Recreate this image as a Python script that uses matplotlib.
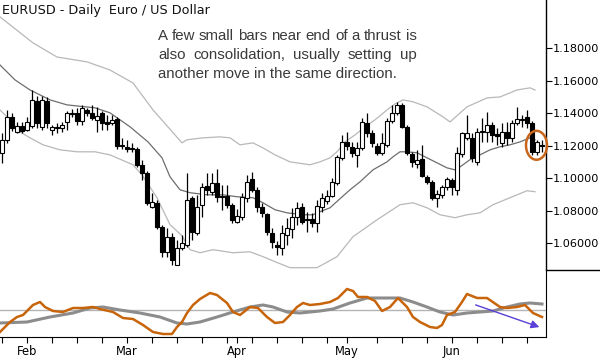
import matplotlib
matplotlib.use("Agg")
import matplotlib.pyplot as plt
from matplotlib.patches import Ellipse
from matplotlib.lines import Line2D

# daily EURUSD candles, one per trading day (index 0 .. 108)
opens = [1.1156, 1.1236, 1.1377, 1.1285, 1.1322, 1.1297, 1.1322, 1.1476, 1.1316, 1.1476,
         1.1297, 1.1310, 1.1310, 1.1346, 1.1396, 1.1402, 1.1353, 1.1420, 1.1402, 1.1359,
         1.1402, 1.1346, 1.1340, 1.1365, 1.1205, 1.1193, 1.1186, 1.1180, 1.1082, 1.1033,
         1.0823, 1.0848, 1.0700, 1.0546, 1.0639, 1.0466, 1.0571, 1.0590, 1.0879, 1.0663,
         1.0836, 1.0953, 1.0916, 1.0971, 1.0891, 1.0891, 1.0836, 1.0731, 1.0762, 1.0879,
         1.0996, 1.0928, 1.0823, 1.0780, 1.0663, 1.0590, 1.0571, 1.0651, 1.0688, 1.0762,
         1.0823, 1.0750, 1.0750, 1.0725, 1.0823, 1.0860, 1.0891, 1.0971, 1.1125, 1.1223,
         1.1193, 1.1143, 1.1186, 1.1340, 1.1279, 1.1199, 1.1156, 1.1205, 1.1353, 1.1402,
         1.1451, 1.1316, 1.1150, 1.1088, 1.1119, 1.1008, 1.0977, 1.0879, 1.0897, 1.0946,
         1.0990, 1.0928, 1.1150, 1.1248, 1.1248, 1.1100, 1.1285, 1.1285, 1.1328, 1.1273,
         1.1217, 1.1285, 1.1248, 1.1340, 1.1359, 1.1377, 1.1340, 1.1162, 1.1205]
highs = [1.1279, 1.1420, 1.1402, 1.1346, 1.1346, 1.1377, 1.1543, 1.1506, 1.1506, 1.1500,
         1.1328, 1.1340, 1.1346, 1.1414, 1.1426, 1.1433, 1.1451, 1.1433, 1.1451, 1.1439,
         1.1414, 1.1390, 1.1390, 1.1377, 1.1248, 1.1236, 1.1217, 1.1193, 1.1113, 1.1045,
         1.0910, 1.0866, 1.0713, 1.0694, 1.0663, 1.0620, 1.0651, 1.1033, 1.0891, 1.0897,
         1.0971, 1.1033, 1.1033, 1.1057, 1.0959, 1.0959, 1.0848, 1.0811, 1.0910, 1.1020,
         1.1039, 1.0946, 1.0848, 1.0786, 1.0694, 1.0614, 1.0713, 1.0756, 1.0817, 1.0854,
         1.0848, 1.0793, 1.0786, 1.0866, 1.0910, 1.0928, 1.1002, 1.1143, 1.1266, 1.1285,
         1.1223, 1.1223, 1.1371, 1.1402, 1.1297, 1.1217, 1.1279, 1.1371, 1.1451, 1.1470,
         1.1463, 1.1328, 1.1162, 1.1174, 1.1205, 1.1020, 1.0990, 1.0928, 1.0959, 1.1008,
         1.1002, 1.1193, 1.1285, 1.1390, 1.1279, 1.1310, 1.1371, 1.1408, 1.1346, 1.1310,
         1.1340, 1.1346, 1.1359, 1.1439, 1.1390, 1.1420, 1.1353, 1.1236, 1.1236]
lows = [1.1094, 1.1217, 1.1291, 1.1279, 1.1279, 1.1291, 1.1310, 1.1310, 1.1297, 1.1310,
        1.1266, 1.1279, 1.1285, 1.1297, 1.1377, 1.1328, 1.1328, 1.1383, 1.1359, 1.1285,
        1.1297, 1.1297, 1.1328, 1.1180, 1.1180, 1.1162, 1.1162, 1.1069, 1.0990, 1.0836,
        1.0817, 1.0688, 1.0516, 1.0516, 1.0466, 1.0466, 1.0559, 1.0577, 1.0620, 1.0651,
        1.0762, 1.0897, 1.0897, 1.0854, 1.0805, 1.0817, 1.0725, 1.0725, 1.0743, 1.0854,
        1.0916, 1.0793, 1.0762, 1.0651, 1.0571, 1.0528, 1.0528, 1.0590, 1.0633, 1.0713,
        1.0719, 1.0670, 1.0700, 1.0670, 1.0793, 1.0842, 1.0885, 1.0959, 1.1113, 1.1174,
        1.1131, 1.1069, 1.1174, 1.1254, 1.1193, 1.1143, 1.1143, 1.1193, 1.1340, 1.1390,
        1.1310, 1.1143, 1.1069, 1.1063, 1.1008, 1.0965, 1.0866, 1.0823, 1.0879, 1.0928,
        1.0897, 1.0897, 1.1131, 1.1236, 1.1100, 1.1082, 1.1223, 1.1223, 1.1223, 1.1205,
        1.1193, 1.1205, 1.1223, 1.1328, 1.1316, 1.1310, 1.1143, 1.1143, 1.1162]
closes = [1.1236, 1.1377, 1.1310, 1.1322, 1.1291, 1.1346, 1.1482, 1.1340, 1.1482, 1.1340,
          1.1316, 1.1316, 1.1328, 1.1402, 1.1402, 1.1353, 1.1433, 1.1402, 1.1371, 1.1383,
          1.1340, 1.1334, 1.1359, 1.1199, 1.1199, 1.1180, 1.1180, 1.1082, 1.1033, 1.0848,
          1.0854, 1.0700, 1.0546, 1.0639, 1.0497, 1.0571, 1.0602, 1.0866, 1.0670, 1.0823,
          1.0946, 1.0928, 1.0971, 1.0885, 1.0885, 1.0836, 1.0743, 1.0768, 1.0885, 1.0977,
          1.0928, 1.0823, 1.0786, 1.0670, 1.0608, 1.0577, 1.0663, 1.0694, 1.0762, 1.0817,
          1.0731, 1.0743, 1.0725, 1.0830, 1.0879, 1.0891, 1.0977, 1.1131, 1.1223, 1.1199,
          1.1156, 1.1186, 1.1346, 1.1279, 1.1217, 1.1156, 1.1217, 1.1353, 1.1402, 1.1451,
          1.1316, 1.1156, 1.1100, 1.1113, 1.1014, 1.0977, 1.0879, 1.0903, 1.0946, 1.0996,
          1.0946, 1.1156, 1.1279, 1.1279, 1.1125, 1.1285, 1.1291, 1.1328, 1.1266, 1.1260,
          1.1285, 1.1248, 1.1340, 1.1365, 1.1365, 1.1340, 1.1162, 1.1223, 1.1199]

# moving average and envelope, read as vertices (bar index, price)
mid_x = [-0.4, 2.6, 5.6, 9.6, 13, 18.6, 21.6, 25.6, 29.2, 32, 33.6, 35.6, 37.6, 41, 44.2,
         47, 50.2, 52.2, 54.6, 57, 60.2, 62.2, 63.6, 65.6, 67.6, 69.6, 71.6, 74.2, 77, 78.2,
         79.6, 81, 83, 85, 87, 89, 90.6, 91.6, 93.6, 95.6, 97.6, 99.6, 101.6, 103.6, 105.6, 106.6]
mid_y = [1.1697, 1.1605, 1.1543, 1.1482, 1.1451, 1.1433, 1.1402, 1.1316, 1.1223, 1.1125,
         1.1008, 1.0928, 1.0910, 1.0897, 1.0897, 1.0885, 1.0879, 1.0848, 1.0805, 1.0786,
         1.0774, 1.0774, 1.0793, 1.0817, 1.0873, 1.0928, 1.0977, 1.1051, 1.1100, 1.1131,
         1.1162, 1.1162, 1.1156, 1.1125, 1.1094, 1.1063, 1.1051, 1.1069, 1.1113, 1.1143,
         1.1174, 1.1193, 1.1205, 1.1223, 1.1248, 1.1236]
upper_x = [-0.4, 6.2, 11, 17, 21.6, 26.2, 30.2, 36, 37, 40.2, 43.6, 45.6, 47.6, 50.2, 52.2,
           54.6, 57.6, 61.6, 63.6, 65.6, 67, 68.6, 70.6, 72.6, 74.6, 77, 78.6, 80.2, 82.2,
           85, 88.2, 89.6, 93, 97, 99.6, 103, 105.6, 106.6]
upper_y = [1.1993, 1.1833, 1.1746, 1.1716, 1.1666, 1.1586, 1.1420, 1.1217, 1.1236, 1.1248,
           1.1254, 1.1248, 1.1205, 1.1217, 1.1186, 1.1143, 1.1100, 1.1082, 1.1100, 1.1125,
           1.1162, 1.1223, 1.1266, 1.1316, 1.1359, 1.1420, 1.1457, 1.1482, 1.1470, 1.1439,
           1.1377, 1.1346, 1.1439, 1.1494, 1.1500, 1.1543, 1.1556, 1.1543]
lower_x = [-0.4, 1, 3.6, 5.6, 8.2, 11.6, 15, 18.6, 21.6, 26.2, 28, 31, 33.6, 36, 37.6, 39.6,
           42.2, 46.2, 49.6, 52.2, 54.6, 57.6, 63, 67, 70.2, 75, 79.6, 82.2, 85, 87.6, 90.6,
           93, 95.6, 98.2, 101.6, 105, 106.6]
lower_y = [1.1420, 1.1377, 1.1285, 1.1248, 1.1205, 1.1174, 1.1162, 1.1162, 1.1143, 1.1082,
           1.1020, 1.0879, 1.0713, 1.0645, 1.0559, 1.0540, 1.0559, 1.0540, 1.0546, 1.0516,
           1.0485, 1.0448, 1.0448, 1.0516, 1.0639, 1.0743, 1.0836, 1.0848, 1.0817, 1.0774,
           1.0756, 1.0774, 1.0786, 1.0836, 1.0879, 1.0922, 1.0916]

# oscillator panel
osc_x = [-0.4, 1.6, 3, 4.2, 6.2, 7.6, 8.6, 10.2, 12.2, 14.2, 16.2, 18.2, 19.6, 22.2, 24.2,
         26.2, 28.2, 30.2, 32.2, 34, 35, 36, 37, 38.2, 39.6, 41.6, 43, 45, 46.2, 47.6, 49.6,
         51.2, 53, 54.6, 56.2, 57.6, 59, 60.2, 61.6, 63.6, 65.6, 67.2, 69, 70.2, 71.2, 73,
         74.6, 76, 77.6, 79.2, 81, 82.2, 83.6, 85.6, 87, 88, 89, 90.6, 92, 93, 95, 97, 99.6,
         101, 103, 104.6, 106.2, 108]
osc_y = [-22, -12, -7, -5, 5, 8, 3, -1, -2, 2, 2, 3, 1, -2, -8, -9, -15, -22, -24, -24, -17,
         -12, -3, 5, 11, 17, 15, 7, -2, -5, 3, 2, -7, -13, -12, -5, 3, 7, 5, 6, 8, 12, 21, 19,
         13, 13, 9, -1, 3, 12, 3, -7, -12, -17, -18, -15, -5, -2, 8, 16, 12, 12, 3, 2, 3, 5,
         -3, -7]
sig_x = [-0.4, 5, 9.6, 14.2, 17.6, 20.2, 23.6, 27.6, 31.6, 35, 37, 39.6, 43, 46.2, 49.6,
         52.2, 54.2, 57, 59.6, 63.6, 66.2, 69.6, 73, 76.2, 79.6, 82.2, 85, 87.6, 90.2, 93,
         95.6, 98.2, 101, 103.6, 105.6, 108]
sig_y = [-13, -12, -7, -3, 2, 3, 0, -3, -7, -13, -14, -12, -7, -2, 3, 5, 3, -2, -3, -1, 1,
         7, 12, 12, 12, 8, 3, -2, -5, -3, -2, -1, 3, 6, 7, 6]

month_pos = [5, 25, 47, 69, 90]
month_names = ['Feb', 'Mar', 'Apr', 'May', 'Jun']
week_pos = [0, 5, 10, 15, 20, 25, 30, 35, 40, 45, 50, 55, 60, 65, 75, 80, 85, 90, 95, 100, 105]
price_ticks = [1.06, 1.08, 1.10, 1.12, 1.14, 1.16, 1.18]

note_lines = ['A few small bars near end of a thrust is',
              'also consolidation, usually setting up',
              'another move in the same direction.']

fig = plt.figure(figsize=(6, 3.6), dpi=100)
ax = fig.add_axes([0, 0.25, 0.91, 0.75])
ax2 = fig.add_axes([0, 23 / 360, 0.91, 67 / 360])

# bands
ax.plot(upper_x, upper_y, color='#b8b8b8', lw=0.9, zorder=1)
ax.plot(lower_x, lower_y, color='#b8b8b8', lw=0.9, zorder=1)
ax.plot(mid_x, mid_y, color='#6e6e6e', lw=0.9, zorder=1)

# candles
idx = list(range(len(opens)))
ax.vlines(idx, lows, highs, color='black', lw=0.9, zorder=2)
for i in idx:
    o, c = opens[i], closes[i]
    up = c >= o
    ax.bar(i, max(abs(c - o), 0.00005), bottom=min(o, c), width=0.62,
           color='white' if up else 'black', edgecolor='black', lw=0.8, zorder=3)

ax.add_patch(Ellipse((106.9, 1.1202), 4.2, 0.0178, fill=False, ec='#c8661c',
                     lw=1.8, zorder=4, clip_on=False))

ax.set_xlim(-0.4, 108.8)
ax.set_ylim(1.04338, 1.20972)
ax.yaxis.tick_right()
ax.set_yticks(price_ticks)
ax.set_yticklabels(['%.5f' % p for p in price_ticks])
ax.tick_params(axis='y', length=4, width=0.8, pad=1, labelsize=8.1, colors='black')
ax.set_xticks([])
for s in ['left', 'top', 'bottom']:
    ax.spines[s].set_visible(False)
ax.spines['right'].set_linewidth(1)

# oscillator
ax2.axhline(0, color='#b4b4b4', lw=1, zorder=1)
ax2.plot(sig_x, sig_y, color='#8c8c8c', lw=2.2, zorder=2)
ax2.plot(osc_x, osc_y, color='#c8640a', lw=1.8, zorder=3)
ax2.annotate('', xy=(108, -18), xytext=(94.2, 6),
             arrowprops=dict(arrowstyle='-|>', color='#5b3fd9', lw=1, mutation_scale=12))
ax2.set_xlim(-0.4, 108.8)
ax2.set_ylim(-27, 40)
ax2.set_yticks([])
ax2.set_xticks(month_pos)
ax2.set_xticklabels(month_names)
ax2.set_xticks(week_pos, minor=True)
ax2.tick_params(axis='x', which='both', length=4, width=0.8, labelsize=8.3, pad=2)
for s in ['left', 'top']:
    ax2.spines[s].set_visible(False)

fig.add_artist(Line2D([0.91, 1.0], [0.25, 0.25], color='black', lw=1))

fig.text(2 / 600, 1 - 14 / 360, 'EURUSD - Daily  Euro / US Dollar', fontsize=9.2,
         color='#111111', ha='left', va='baseline')

# justified note text (last line left aligned)
renderer = fig.canvas.get_renderer()
note_kw = dict(fontsize=10.8, family='Liberation Sans', color='#3a3a3a', va='baseline')


def text_w(s):
    t = fig.text(0, 0, s, **note_kw)
    w = t.get_window_extent(renderer).width
    t.remove()
    return w


x0, x1 = 158, 417
for n, line in enumerate(note_lines):
    yb = 40 + 19 * n
    if n == len(note_lines) - 1:
        fig.text(x0 / 600, 1 - yb / 360, line, **note_kw)
        continue
    words = line.split()
    extra = (x1 - x0 - text_w(line)) / (len(words) - 1)
    for k, w in enumerate(words):
        if k == 0:
            start = 0
        else:
            start = text_w(' '.join(words[:k + 1])) - text_w(w)
        fig.text((x0 + start + k * extra) / 600, 1 - yb / 360, w, **note_kw)

fig.savefig('out.png', dpi=100)
